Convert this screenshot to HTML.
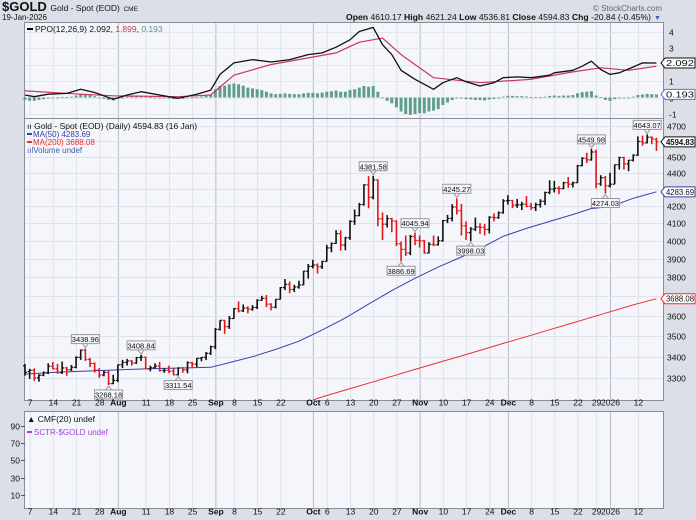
<!DOCTYPE html>
<html><head><meta charset="utf-8"><style>
html,body{margin:0;padding:0;background:#dcdfe7;}
svg{display:block;font-family:"Liberation Sans",sans-serif;}
</style></head><body>
<svg id="c" width="696" height="520" viewBox="0 0 696 520" xmlns="http://www.w3.org/2000/svg">
<rect x="0" y="0" width="696" height="520" fill="#dcdfe7"/>
<text x="2" y="11" font-size="13" font-weight="bold" fill="#111">$GOLD <tspan font-size="8.5" font-weight="normal">Gold - Spot (EOD)</tspan> <tspan font-size="6.5" font-weight="normal">CME</tspan></text>
<text x="2" y="20" font-size="8" fill="#111">19-Jan-2026</text>
<text x="662" y="11" font-size="8" fill="#666" text-anchor="end">© StockCharts.com</text>
<text x="346" y="20" font-size="8" fill="#111" textLength="305" lengthAdjust="spacingAndGlyphs"><tspan font-weight="bold">Open</tspan> 4610.17 <tspan font-weight="bold">High</tspan> 4621.24 <tspan font-weight="bold">Low</tspan> 4536.81 <tspan font-weight="bold">Close</tspan> 4594.83 <tspan font-weight="bold">Chg</tspan> -20.84 (-0.45%)</text>
<text x="654" y="20" font-size="7" fill="#3a5fb0">▼</text>
<rect x="24.5" y="22.5" width="639" height="96" fill="#f5f6fb" stroke="#8a8d96"/>
<rect x="24.5" y="118.5" width="639" height="282" fill="#f5f6fb" stroke="#8a8d96"/>
<rect x="24.5" y="411.5" width="639" height="97" fill="#f5f6fb" stroke="#8a8d96"/>
<g id="grid"></g><g id="ppo"></g><g id="price"></g><g id="lower"></g><g id="axes"></g><g id="ann"></g>
<g><line x1="27" y1="29" x2="33" y2="29" stroke="#000" stroke-width="2"/><text x="35" y="32" font-size="8.5" fill="#111">PPO(12,26,9) 2.092, <tspan fill="#c8385a">1.899</tspan>, <tspan fill="#4f9a86">0.193</tspan></text></g>
<g>
<text x="27" y="129" font-size="8.5" fill="#111">ıı Gold - Spot (EOD) (Daily) 4594.83 (16 Jan)</text>
<line x1="27" y1="134" x2="32" y2="134" stroke="#3d3dad" stroke-width="2"/><text x="33" y="137" font-size="8" fill="#3d3dad">MA(50) 4283.69</text>
<line x1="27" y1="142" x2="32" y2="142" stroke="#e83030" stroke-width="2"/><text x="33" y="145" font-size="8" fill="#e83030">MA(200) 3688.08</text>
<text x="27" y="153" font-size="8" fill="#3d5fb0">ıılVolume undef</text></g>
<g>
<text x="27" y="422" font-size="8.5" fill="#111">▲ CMF(20) undef</text>
<line x1="27" y1="432" x2="32" y2="432" stroke="#a040e0" stroke-width="2"/><text x="34" y="435" font-size="8" fill="#a040e0">SCTR-$GOLD undef</text></g>
</svg>
<script>
const dates=["07-03","07-07","07-08","07-09","07-10","07-11","07-14","07-15","07-16","07-17","07-18","07-21","07-22","07-23","07-24","07-25","07-28","07-29","07-30","07-31","08-01","08-04","08-05","08-06","08-07","08-08","08-11","08-12","08-13","08-14","08-15","08-18","08-19","08-20","08-21","08-22","08-25","08-26","08-27","08-28","08-29","09-02","09-03","09-04","09-05","09-08","09-09","09-10","09-11","09-12","09-15","09-16","09-17","09-18","09-19","09-22","09-23","09-24","09-25","09-26","09-29","09-30","10-01","10-02","10-03","10-06","10-07","10-08","10-09","10-10","10-13","10-14","10-15","10-16","10-17","10-20","10-21","10-22","10-23","10-24","10-27","10-28","10-29","10-30","10-31","11-03","11-04","11-05","11-06","11-07","11-10","11-11","11-12","11-13","11-14","11-17","11-18","11-19","11-20","11-21","11-24","11-25","11-26","11-28","12-01","12-02","12-03","12-04","12-05","12-08","12-09","12-10","12-11","12-12","12-15","12-16","12-17","12-18","12-19","12-22","12-23","12-24","12-26","12-29","12-30","12-31","01-02","01-05","01-06","01-07","01-08","01-09","01-12","01-13","01-14","01-15","01-16"];
const opens=[3357,3330,3336,3301,3313,3324,3355,3343,3325,3347,3339,3350,3397,3432,3387,3368,3337,3314,3326,3274,3289,3362,3373,3380,3370,3396,3398,3343,3348,3356,3335,3336,3332,3315,3347,3338,3372,3365,3393,3397,3416,3448,3533,3578,3546,3587,3637,3626,3640,3634,3643,3680,3690,3660,3644,3685,3746,3763,3736,3749,3760,3833,3859,3866,3857,3886,3960,3985,4040,3976,4017,4110,4143,4208,4326,4251,4356,4125,4094,4126,4112,3983,3952,3932,4024,4002,4000,3932,3980,3977,4000,4115,4127,4194,4172,4084,4046,4066,4078,4076,4064,4134,4132,4160,4230,4232,4205,4207,4210,4198,4190,4208,4228,4280,4300,4305,4303,4339,4330,4339,4444,4490,4480,4530,4332,4370,4320,4330,4450,4495,4455,4478,4510,4597,4588,4625,4610];
const highs=[3365,3343,3345,3318,3331,3369,3375,3366,3377,3352,3361,3402,3434,3439,3395,3373,3346,3334,3334,3315,3363,3385,3390,3385,3399,3409,3400,3358,3369,3375,3346,3358,3345,3350,3351,3378,3376,3394,3398,3423,3453,3540,3578,3580,3600,3640,3674,3658,3649,3655,3685,3703,3707,3665,3686,3749,3791,3778,3761,3782,3835,3872,3895,3875,3889,3977,3990,4060,4059,4022,4117,4179,4218,4330,4379,4381,4360,4162,4146,4131,4117,3996,4030,4033,4046,4030,4005,3992,4029,4025,4118,4148,4210,4245,4212,4110,4078,4132,4100,4095,4140,4157,4168,4240,4264,4236,4241,4225,4259,4218,4219,4240,4285,4354,4350,4318,4345,4374,4345,4448,4497,4525,4550,4545,4385,4380,4400,4450,4500,4500,4480,4515,4630,4635,4643,4630,4621];
const lows=[3311,3296,3287,3283,3308,3318,3340,3320,3319,3310,3333,3345,3385,3380,3351,3325,3301,3308,3268,3272,3281,3346,3358,3358,3366,3380,3340,3331,3345,3330,3324,3323,3312,3312,3325,3322,3351,3351,3378,3384,3408,3436,3527,3511,3535,3586,3618,3620,3613,3626,3635,3677,3645,3628,3639,3684,3733,3717,3723,3740,3759,3793,3848,3820,3845,3885,3936,3983,3945,3947,4005,4090,4140,4202,4186,4239,4082,4004,4075,4048,3970,3887,3916,3920,3975,3962,3928,3930,3970,3973,3995,4100,4110,4150,4030,4005,3998,4055,4038,4030,4041,4110,4125,4155,4208,4187,4189,4176,4192,4177,4170,4190,4205,4270,4280,4270,4300,4308,4310,4338,4440,4460,4475,4305,4320,4274,4310,4330,4420,4420,4410,4470,4505,4570,4585,4580,4537];
const closes=[3326,3336,3301,3313,3324,3355,3343,3325,3347,3339,3350,3397,3432,3387,3368,3337,3314,3326,3274,3289,3362,3373,3380,3370,3396,3398,3343,3348,3356,3335,3336,3332,3315,3347,3338,3372,3365,3393,3397,3416,3448,3533,3578,3546,3587,3637,3626,3640,3634,3643,3680,3690,3660,3644,3685,3746,3763,3736,3749,3760,3833,3859,3866,3857,3886,3960,3985,4040,3976,4017,4110,4143,4208,4326,4251,4356,4125,4094,4126,4112,3983,3952,3932,4024,4002,4000,3932,3980,3977,4000,4115,4127,4194,4172,4084,4046,4066,4078,4076,4064,4134,4132,4160,4230,4232,4205,4207,4210,4198,4190,4208,4228,4280,4300,4305,4303,4339,4330,4339,4444,4490,4480,4530,4332,4370,4320,4330,4450,4495,4455,4478,4510,4597,4588,4625,4615,4595];
const ma50Dates=["07-03","07-11","07-18","07-25","08-01","08-08","08-15","08-22","08-29","09-05","09-12","09-19","09-26","10-03","10-10","10-17","10-24","10-31","11-07","11-14","11-21","11-28","12-05","12-12","12-19","12-26","01-02","01-09","01-16"];
const ma50=[3318,3325,3330,3334,3338,3342,3345,3347,3350,3372,3400,3435,3475,3530,3590,3660,3730,3795,3855,3910,3970,4025,4070,4110,4150,4185,4195,4245,4284];
const ma200Dates=["10-01","10-03","10-10","10-17","10-24","10-31","11-07","11-14","11-21","11-28","12-05","12-12","12-19","12-26","01-02","01-09","01-16"];
const ma200=[3200,3214,3245,3276,3308,3340,3372,3404,3437,3464,3497,3531,3565,3593,3621,3656,3688];
const ppoDates=["07-03","07-08","07-11","07-17","07-22","07-25","07-31","08-05","08-08","08-14","08-20","08-26","08-29","09-03","09-08","09-12","09-18","09-24","09-30","10-03","10-08","10-13","10-15","10-20","10-22","10-24","10-28","10-31","11-06","11-10","11-13","11-17","11-20","11-25","11-28","12-03","12-08","12-12","12-15","12-19","12-23","12-26","12-30","01-02","01-06","01-09","01-13","01-16"];
const ppoLine=[0.15,0.05,0.2,0.25,0.5,0.3,-0.1,0.15,0.35,0.15,-0.05,0.2,0.45,1.4,2.1,2.3,2.15,2.3,2.6,2.7,3.05,3.5,4.0,4.25,3.2,2.6,1.65,1.1,0.5,0.9,1.2,0.95,0.7,0.9,1.2,1.25,1.2,1.35,1.5,1.65,1.9,2.2,1.7,1.4,1.5,1.85,2.1,2.092];
const sigDates=["07-03","07-22","07-31","08-20","08-29","09-08","09-18","09-30","10-08","10-15","10-22","10-28","11-06","11-20","12-08","12-19","12-30","01-08","01-16"];
const sigLine=[0.4,0.2,0.1,0.05,0.15,1.35,2.0,2.4,2.7,3.35,3.6,2.6,1.2,0.9,1.1,1.55,1.8,1.65,1.899];
const hist=[-0.15,-0.2,-0.2,-0.15,-0.1,-0.05,0,-0.02,0.02,0.03,0.05,0.12,0.22,0.2,0.15,0.08,-0.02,-0.08,-0.15,-0.18,-0.08,0,0.05,0.06,0.1,0.12,0.05,0.02,0,-0.03,-0.05,-0.07,-0.1,-0.08,-0.08,-0.03,-0.02,0.03,0.06,0.1,0.17,0.5,0.7,0.72,0.8,0.85,0.8,0.72,0.6,0.55,0.5,0.45,0.35,0.25,0.2,0.22,0.25,0.22,0.2,0.2,0.25,0.28,0.28,0.25,0.3,0.35,0.38,0.42,0.35,0.35,0.45,0.5,0.6,0.7,0.65,0.7,0.35,0,-0.2,-0.35,-0.6,-0.85,-1.0,-1.05,-1.0,-0.95,-0.95,-0.85,-0.8,-0.7,-0.45,-0.3,-0.15,-0.05,-0.05,-0.1,-0.12,-0.15,-0.15,-0.18,-0.12,-0.08,-0.05,0.05,0.1,0.1,0.08,0.08,0.06,0.03,0.02,0.03,0.05,0.1,0.12,0.1,0.12,0.12,0.15,0.25,0.32,0.35,0.38,0.12,0.02,-0.15,-0.2,-0.1,-0.05,-0.02,0,0.05,0.15,0.18,0.22,0.2,0.19];
const priceTicks=[4700,4600,4500,4400,4300,4200,4100,4000,3900,3800,3700,3600,3500,3400,3300];
const ppoTicks=[4,3,2,1,0,-1];
const lowerTicks=[90,70,50,30,10];
const xLabelDates=["07-07","07-14","07-21","07-28","08-01","08-11","08-18","08-25","09-02","09-08","09-15","09-22","10-01","10-06","10-13","10-20","10-27","11-03","11-10","11-17","11-24","12-01","12-08","12-15","12-22","12-29","01-02","01-12"];
const xLabels=["7","14","21","28","Aug","11","18","25","Sep","8","15","22","Oct","6","13","20","27","Nov","10","17","24","Dec","8","15","22","29","2026","12"];
const annDates=["07-23","07-30","08-08","08-20","10-20","10-28","10-31","11-13","11-18","12-26","12-31","01-14"];
const annValues=[3438.96,3268.18,3408.84,3311.54,4381.58,3886.69,4045.94,4245.27,3998.03,4549.98,4274.03,4643.07];
const annAbove=[1,0,1,0,1,0,1,1,0,1,0,1];

const NS="http://www.w3.org/2000/svg";
function mk(parent,tag,attrs,name){const e=document.createElementNS(NS,tag);for(const k in attrs)e.setAttribute(k,attrs[k]);


document.getElementById(parent).appendChild(e);return e;}
const X0=25,DX=4.643;
function xi(i){return X0+i*DX;}
function xd(d){return xi(dates.indexOf(d));}
function yPrice(p){return 125.7+713.5*(Math.log(4700)-Math.log(p));}
function yPpo(v){return 97.5-v*16.5;}
function yLow(v){return 425.7+(90-v)*0.866;}
const monthStarts=["08-01","09-02","10-01","11-03","12-01","01-02"];
xLabelDates.forEach((d,k)=>{const x=xd(d)+0.5;const strong=monthStarts.includes(d);
[[23,118],[119,400],[412,508]].forEach(r=>{mk('grid','line',{x1:x,x2:x,y1:r[0],y2:r[1],stroke:strong?'#b8bbc6':'#dfe2ea','stroke-width':1},'vertical-gridline');});
[405.5,514.5].forEach(yy=>{const t=mk('axes','text',{x:x,y:yy,'font-size':8.5,'text-anchor':'middle',fill:'#111','font-weight':isNaN(+xLabels[k])?'bold':'normal'},'x-axis-label');t.textContent=xLabels[k];});});
priceTicks.forEach(p=>{const y=Math.round(yPrice(p))+0.5;mk('grid','line',{x1:25,x2:663,y1:y,y2:y,stroke:'#dfe2ea'},'price-gridline');
const t=mk('axes','text',{x:667,y:y+3,'font-size':8.5,fill:'#111'},'price-tick-label');t.textContent=p;});
ppoTicks.forEach(v=>{const y=Math.round(yPpo(v))+0.5;mk('grid','line',{x1:25,x2:663,y1:y,y2:y,stroke:'#e4e6ee'},'ppo-gridline');
const t=mk('axes','text',{x:669,y:y+3,'font-size':8.5,fill:'#111'},'ppo-tick-label');t.textContent=v;});
lowerTicks.forEach(v=>{const y=Math.round(yLow(v))+0.5;mk('grid','line',{x1:21,x2:25,y1:y,y2:y,stroke:'#555'},'lower-tick');
const t=mk('axes','text',{x:20,y:y+3,'font-size':8.5,fill:'#111','text-anchor':'end'},'lower-tick-label');t.textContent=v;});
hist.forEach((v,i)=>{const x=xi(i),y0=yPpo(0),y1=yPpo(v);mk('ppo','rect',{x:x-1.5,y:Math.min(y0,y1),width:3,height:Math.max(0.8,Math.abs(y1-y0)),fill:'#5f9e8a'},'ppo-histogram-bar');});
function poly(g,ds,vs,yf,col,w,name){const pts=ds.map((d,k)=>xd(d).toFixed(1)+','+yf(vs[k]).toFixed(1)).join(' ');return mk(g,'polyline',{points:pts,fill:'none',stroke:col,'stroke-width':w,'stroke-linejoin':'round'},name);}
poly('ppo',sigDates,sigLine,yPpo,'#c8385a',1.2,'ppo-signal-line');
poly('ppo',ppoDates,ppoLine,yPpo,'#111',1.3,'ppo-line');
mk('price','clipPath',{id:'pc'},'price-clip').appendChild((()=>{const r=document.createElementNS(NS,'rect');r.setAttribute('x',25);r.setAttribute('y',119);r.setAttribute('width',638);r.setAttribute('height',281);return r;})());
const m2=poly('price',ma200Dates,ma200,yPrice,'#e83030',1,'ma200-line');m2.setAttribute('clip-path','url(#pc)');
poly('price',ma50Dates,ma50,yPrice,'#3d3dad',1,'ma50-line');
closes.forEach((c,i)=>{const x=xi(i),col=(i>0&&c<closes[i-1])?'#e01818':'#111';
mk('price','line',{x1:x,x2:x,y1:yPrice(highs[i]),y2:yPrice(lows[i]),stroke:col,'stroke-width':1.6},'ohlc-bar');
mk('price','line',{x1:x-2,x2:x,y1:yPrice(opens[i]),y2:yPrice(opens[i]),stroke:col,'stroke-width':1.2},'ohlc-open-tick');
mk('price','line',{x1:x,x2:x+2,y1:yPrice(c),y2:yPrice(c),stroke:col,'stroke-width':1.2},'ohlc-close-tick');});
annDates.forEach((d,k)=>{const x=xd(d),y=yPrice(annValues[k]),up=annAbove[k];const by=up?y-14:y+5;
mk('ann','path',{d:up?`M${x-3},${y-5} L${x},${y-1} L${x+3},${y-5}`:`M${x-3},${y+5} L${x},${y+1} L${x+3},${y+5}`,fill:'none',stroke:'#999'},'annotation-pointer');
mk('ann','rect',{x:x-14,y:by,width:28,height:9,fill:'#f5f6fb',stroke:'#999'},'annotation-box');
const t=mk('ann','text',{x:x,y:by+7.5,'font-size':7.5,'text-anchor':'middle',fill:'#111'},'annotation-label');t.textContent=annValues[k].toFixed(2);});
function tag(v,y,col,bold,name){mk('ann','path',{d:`M661,${y} L665,${y-5} L695,${y-5} L695,${y+5} L665,${y+5} Z`,fill:'#fff',stroke:col},name+'-box');
const t=mk('ann','text',{x:666,y:y+3,'font-size':8,fill:'#111','font-weight':bold?'bold':'normal',textLength:28,lengthAdjust:'spacingAndGlyphs'},name);t.textContent=v;}
tag('4594.83',yPrice(closes[closes.length-1]),'#111',true,'last-price-tag');
tag('4283.69',yPrice(ma50[ma50.length-1]),'#3d3dad',false,'ma50-value-tag');
tag('3688.08',yPrice(ma200[ma200.length-1]),'#e83030',false,'ma200-value-tag');
tag('2.092',yPpo(ppoLine[ppoLine.length-1]),'#111',false,'ppo-value-tag');
tag('0.193',yPpo(hist[hist.length-1]),'#6a6ad0',false,'hist-value-tag');
</script>
</body></html>
